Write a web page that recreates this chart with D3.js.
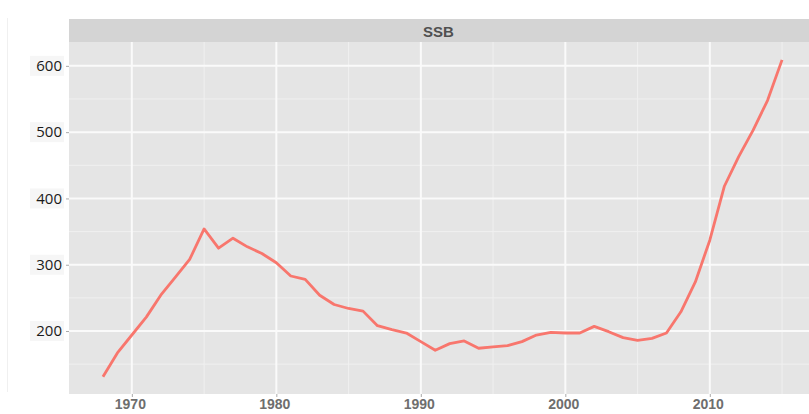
<!DOCTYPE html>
<html><head><meta charset="utf-8">
<script src="https://cdn.jsdelivr.net/npm/d3@7"></script>
<style>body{margin:0;background:#fff}svg{display:block}</style>
</head><body><svg id="c" width="809" height="414"></svg>
<script>
const years = [1968,1969,1970,1971,1972,1973,1974,1975,1976,1977,1978,1979,1980,1981,1982,1983,1984,1985,1986,1987,1988,1989,1990,1991,1992,1993,1994,1995,1996,1997,1998,1999,2000,2001,2002,2003,2004,2005,2006,2007,2008,2009,2010,2011,2012,2013,2014,2015];
const ssb = [131,167,194,221,254,281,308,354,325,340,327,317,303,283,278,254,240,234,230,208,202,197,184,171,181,185,174,176,178,184,194,198,197,197,207,199,190,186,189,197,229,274,337,418,463,503,548,609];
const yTicks = [200,300,400,500,600];
const yMinor = [150,250,350,450,550];
const xTicks = [1970,1980,1990,2000,2010];
const xMinor = [1975,1985,1995,2005,2015];
const panelTitle = "SSB";

const svg = d3.select("#c");
const L = 69, R = 816, T = 42, B = 394;
const x = d3.scaleLinear().domain([1965.65, 2017.35]).range([L, R]);
const y = d3.scaleLinear().domain([105, 636]).range([B, T]);

// faint left border line
svg.append("line").attr("x1",7.5).attr("x2",7.5).attr("y1",18).attr("y2",392).attr("stroke","#f0f0f0").attr("stroke-width",1);

// strip
svg.append("rect").attr("x",L).attr("y",19).attr("width",R-L).attr("height",T-19).attr("fill","#d4d4d4");
svg.append("text").attr("x",(L+R)/2 - 4).attr("y",37).attr("text-anchor","middle")
  .attr("font-family","Arial, 'Liberation Sans', sans-serif").attr("font-size",15).attr("font-weight","bold").attr("fill","#505050").text(panelTitle);

// panel
svg.append("rect").attr("x",L).attr("y",T).attr("width",R-L).attr("height",B-T).attr("fill","#e5e5e5");
const g = svg.append("g");
g.selectAll(".ym").data(yMinor).join("line").attr("x1",L).attr("x2",R).attr("y1",d=>y(d)).attr("y2",d=>y(d)).attr("stroke","#f0f0f0").attr("stroke-width",1);
g.selectAll(".xm").data(xMinor).join("line").attr("y1",T).attr("y2",B).attr("x1",d=>x(d)).attr("x2",d=>x(d)).attr("stroke","#f0f0f0").attr("stroke-width",1);
g.selectAll(".yM").data(yTicks).join("line").attr("x1",L).attr("x2",R).attr("y1",d=>y(d)).attr("y2",d=>y(d)).attr("stroke","#fafafa").attr("stroke-width",2);
g.selectAll(".xM").data(xTicks).join("line").attr("y1",T).attr("y2",B).attr("x1",d=>x(d)).attr("x2",d=>x(d)).attr("stroke","#fafafa").attr("stroke-width",2);

// line
const line = d3.line().x((d,i)=>x(years[i])).y(d=>y(d));
svg.append("path").datum(ssb).attr("d",line).attr("fill","none").attr("stroke","#F8766D").attr("stroke-width",2.8).attr("stroke-linejoin","round");

// y axis label backgrounds
svg.selectAll(".ybg").data(yTicks).join("rect").attr("x",30).attr("y",d=>y(d)-10).attr("width",34).attr("height",20).attr("fill","#f6f6f6");

// y axis
const yAxis = svg.append("g").attr("transform",`translate(${L},0)`)
  .call(d3.axisLeft(y).tickValues(yTicks).tickSize(3).tickPadding(4));
yAxis.select(".domain").remove();
yAxis.selectAll(".tick line").attr("stroke","#aaa");
yAxis.selectAll(".tick text").attr("font-family","'Open Sans', Arial, sans-serif").attr("font-size",15).attr("fill","#1a1a1a");

// x axis
const xAxis = svg.append("g").attr("transform",`translate(0,${B})`)
  .call(d3.axisBottom(x).tickValues(xTicks).tickFormat(d3.format("d")).tickSize(3).tickPadding(2));
xAxis.select(".domain").remove();
xAxis.selectAll(".tick line").attr("stroke","#aaa");
xAxis.selectAll(".tick text").attr("font-family","Arial, 'Liberation Sans', sans-serif").attr("font-size",14).attr("font-weight","bold").attr("fill","#6e6e6e").attr("dx",-2);
</script></body></html>
